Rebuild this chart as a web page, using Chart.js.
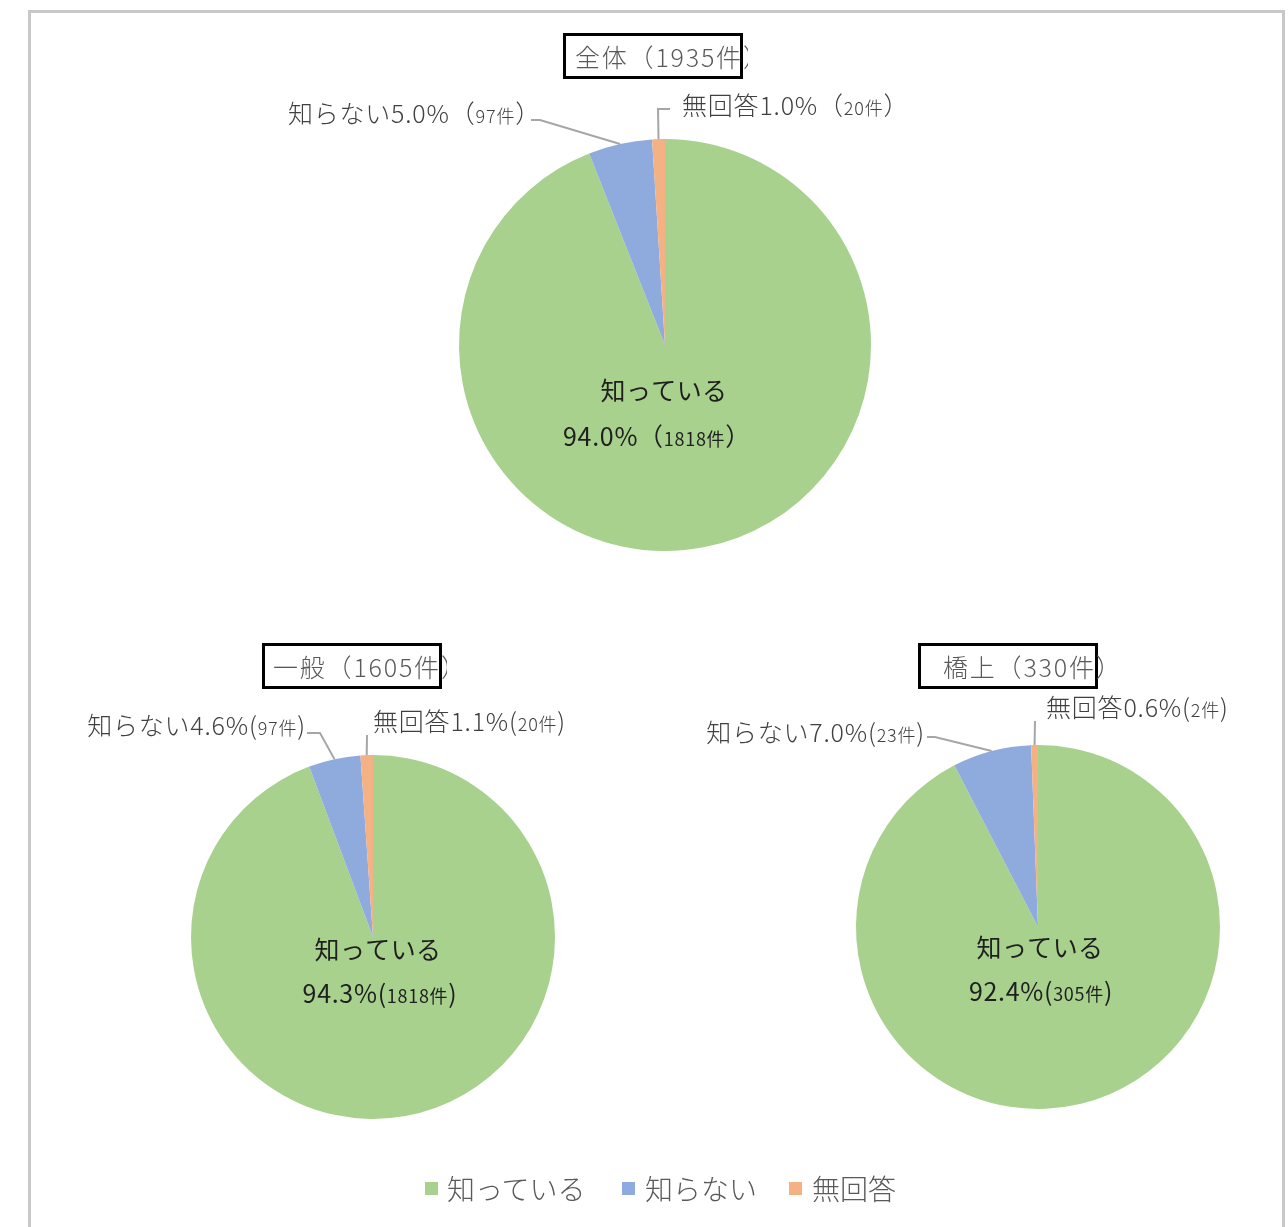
<!DOCTYPE html>
<html lang="ja">
<head>
<meta charset="utf-8">
<script src="https://cdn.jsdelivr.net/npm/chart.js@4.4.1/dist/chart.umd.min.js"></script>
<style>
html, body { margin: 0; padding: 0; background: #fff; overflow: hidden; }
#page { position: relative; width: 1288px; height: 1227px; font-family: "Noto Sans CJK JP", sans-serif; }
#frame { position: absolute; left: 28px; top: 10px; width: 1251px; height: 1260px; border: 3px solid #c8c8c8; }
canvas { position: absolute; left: 0; top: 0; }
.ttl { position: absolute; overflow: hidden; height: 46px; }
.ttl .box { position: absolute; left: 0; top: 0; height: 46px; box-sizing: border-box; border: 3px solid #000; }
.ttl span { position: absolute; top: 0; line-height: 46px; white-space: nowrap; font-size: 25px; font-weight: 300; letter-spacing: 1.8px; color: #595959; }
.lg { position: absolute; top: 1169px; font-size: 28px; line-height: 38px; font-weight: 300; color: #595959; white-space: nowrap; }
.lg i { position: absolute; top: 13px; width: 13px; height: 13px; }
</style>
</head>
<body>
<div id="page">
  <div id="frame"></div>
  <canvas id="c0" width="1288" height="1227"></canvas>
  <canvas id="c1" width="1288" height="1227"></canvas>
  <canvas id="c2" width="1288" height="1227"></canvas>
</div>
<script>
// 回答区分
const categories = ["知っている", "知らない", "無回答"]
const colors = ["#A9D18E", "#8FAADC", "#F4B183"]

// 割合(%)と件数
const zentaiPct = [94.0, 5.0, 1.0]
const zentaiCnt = [1818, 97, 20]
const ippanPct = [94.3, 4.6, 1.1]
const ippanCnt = [1818, 97, 20]
const kyojoPct = [92.4, 7.0, 0.6]
const kyojoCnt = [305, 23, 2]

const titles = ["全体（1935件）", "一般（1605件）", "橋上（330件）"]

const FONT = '"Noto Sans CJK JP", sans-serif'
const BIG = 25
const SMALL = 18

const drawRich = (ctx, parts, x, y, align, color, weight, spacing) => {
    ctx.save()
    ctx.fillStyle = color
    ctx.textBaseline = "alphabetic"
    ctx.textAlign = "left"
    ctx.letterSpacing = spacing + "px"
    let total = 0
    const widths = parts.map(p => {
        ctx.font = `${weight} ${p[1]}px ${FONT}`
        const w = ctx.measureText(p[0]).width
        total += w
        return w
    })
    let sx = align == "right" ? x - total : align == "center" ? x - total / 2 : x
    const base = y + BIG * 0.36
    parts.forEach((p, i) => {
        ctx.font = `${weight} ${p[1]}px ${FONT}`
        ctx.fillText(p[0], sx, base)
        sx += widths[i]
    })
    ctx.restore()
}

const labelParts = (head, pct, cnt, paren) => [
    [`${head}${pct.toFixed(1)}%`, BIG],
    [paren[0], BIG],
    [`${cnt}件`, SMALL],
    [paren[1], BIG]
]

const calloutPlugin = {
    id: "callouts",
    afterDraw(chart, args, opts) {
        const ctx = chart.ctx
        const arcs = chart.getDatasetMeta(0).data
        const pct = chart.data.datasets[0].data
        const cnt = opts.counts

        opts.outside.forEach(o => {
            const a = arcs[o.index]
            const mid = (a.startAngle + a.endAngle) / 2
            const px = a.x + a.outerRadius * Math.cos(mid)
            const py = a.y + a.outerRadius * Math.sin(mid)
            ctx.save()
            ctx.strokeStyle = "#a6a6a6"
            ctx.lineWidth = 2
            ctx.beginPath()
            ctx.moveTo(px, py)
            o.path.forEach(p => ctx.lineTo(p[0], p[1]))
            ctx.stroke()
            ctx.restore()
            drawRich(ctx, labelParts(categories[o.index], pct[o.index], cnt[o.index], opts.paren),
                o.x, o.y, o.align, "#404040", 300, 0.8)
        })

        const ins = opts.inside
        drawRich(ctx, [[categories[0], BIG]], ins.x1, ins.y1, "center", "#1f1f1f", 400, 0.4)
        drawRich(ctx, labelParts("", pct[0], cnt[0], opts.paren), ins.x2, ins.y2, "center", "#1f1f1f", 400, 0.7)
    }
}

const makeChart = (id, pct, cnt, padding, callouts) => {
    new Chart(document.getElementById(id), {
        type: "pie",
        data: {
            labels: categories,
            datasets: [{
                data: pct,
                backgroundColor: colors,
                borderWidth: 0
            }]
        },
        options: {
            responsive: false,
            animation: false,
            events: [],
            layout: { padding: padding },
            plugins: {
                legend: { display: false },
                tooltip: { enabled: false },
                callouts: Object.assign({ counts: cnt }, callouts)
            }
        },
        plugins: [calloutPlugin]
    })
}

makeChart("c0", zentaiPct, zentaiCnt,
    { left: 459, right: 417, top: 139, bottom: 676 },
    {
        paren: ["（", "）"],
        outside: [
            { index: 1, path: [[540, 120], [531, 120]], x: 541, y: 114, align: "right" },
            { index: 2, path: [[658, 109], [670, 109]], x: 682, y: 106, align: "left" }
        ],
        inside: { x1: 664, y1: 391, x2: 657, y2: 437 }
    })

makeChart("c1", ippanPct, ippanCnt,
    { left: 191, right: 733, top: 755, bottom: 108 },
    {
        paren: ["(", ")"],
        outside: [
            { index: 1, path: [[320, 733], [307, 733]], x: 306, y: 726, align: "right" },
            { index: 2, path: [[367, 735]], x: 373, y: 722, align: "left" }
        ],
        inside: { x1: 378, y1: 950, x2: 380, y2: 994 }
    })

makeChart("c2", kyojoPct, kyojoCnt,
    { left: 856, right: 68, top: 745, bottom: 118 },
    {
        paren: ["(", ")"],
        outside: [
            { index: 1, path: [[935, 737], [927, 737]], x: 925, y: 733, align: "right" },
            { index: 2, path: [[1035, 721]], x: 1046, y: 708, align: "left" }
        ],
        inside: { x1: 1040, y1: 948, x2: 1041, y2: 992 }
    })

// タイトル枠
const page = document.getElementById("page")
const titleBoxes = [
    { left: 563, top: 33, width: 180, pad: 12 },
    { left: 262, top: 643, width: 180, pad: 11 },
    { left: 918, top: 643, width: 180, pad: 25 }
]
titleBoxes.forEach((b, i) => {
    const d = document.createElement("div")
    d.className = "ttl"
    d.style.left = b.left + "px"
    d.style.top = b.top + "px"
    d.style.width = (b.width + 5) + "px"
    d.innerHTML = `<div class="box" style="width:${b.width}px"></div><span style="left:${b.pad}px">${titles[i]}</span>`
    page.appendChild(d)
})

// 凡例
const legendX = [[425, 447], [622, 645], [789, 812]]
categories.forEach((c, i) => {
    const sq = document.createElement("div")
    sq.className = "lg"
    sq.style.left = legendX[i][0] + "px"
    sq.innerHTML = `<i style="left:0;background:${colors[i]}"></i><span style="margin-left:${legendX[i][1] - legendX[i][0]}px">${c}</span>`
    page.appendChild(sq)
})
</script>
</body>
</html>
